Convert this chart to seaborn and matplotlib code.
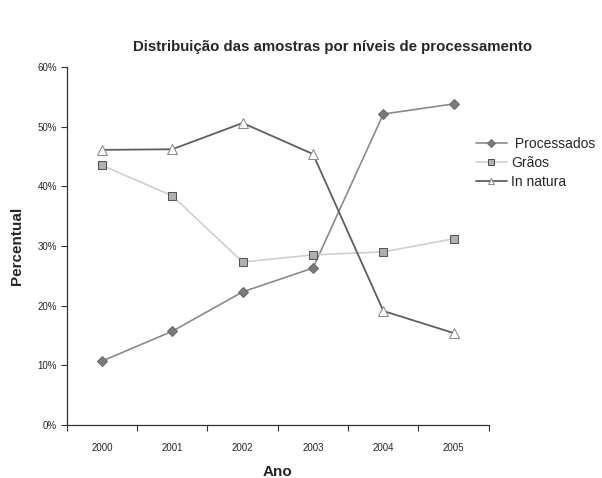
import pandas as pd
import matplotlib
matplotlib.use("Agg")
import matplotlib.pyplot as plt
import seaborn as sns
from matplotlib.ticker import PercentFormatter

# --- data ---
anos = ["2000", "2001", "2002", "2003", "2004", "2005"]
processados = [10.7, 15.7, 22.3, 26.3, 52.1, 53.8]
graos = [43.5, 38.4, 27.3, 28.5, 29.0, 31.2]
in_natura = [46.1, 46.2, 50.6, 45.4, 19.1, 15.4]

sns.set_theme(style="white")
plt.rcParams["font.family"] = ["Liberation Sans Narrow", "Liberation Sans", "DejaVu Sans"]

df = pd.DataFrame({"pos": range(len(anos)), "ano": anos,
                   "Processados": processados, "Grãos": graos, "In natura": in_natura})

fig = plt.figure(figsize=(6.02, 4.78), dpi=100)
ax = fig.add_axes([0.111, 0.111, 0.701, 0.749])

# --- series ---
sns.lineplot(data=df, x="pos", y="Processados", ax=ax, color="#8a8a8a", lw=1.2,
             marker="D", markersize=5.5, markerfacecolor="#7a7a7a", markeredgecolor="#6a6a6a",
             label=" Processados")
sns.lineplot(data=df, x="pos", y="Grãos", ax=ax, color="#cfcfcf", lw=1.2,
             marker="s", markersize=6, markerfacecolor="#b0b0b0", markeredgecolor="#555555",
             label="Grãos")
sns.lineplot(data=df, x="pos", y="In natura", ax=ax, color="#5e5e5e", lw=1.3,
             marker="^", markersize=7, markerfacecolor="white", markeredgecolor="#8a8a8a",
             label="In natura")

# --- axes ---
ax.set_xlim(-0.5, len(anos) - 0.5)
ax.set_ylim(0, 60)
ax.set_yticks(range(0, 61, 10))
ax.yaxis.set_major_formatter(PercentFormatter(decimals=0))
ax.set_xticks(range(len(anos)))
ax.set_xticklabels(anos)
ax.set_xticks([i - 0.5 for i in range(len(anos) + 1)], minor=True)
ax.tick_params(axis="x", which="major", length=0, labelsize=7, pad=13)
ax.tick_params(axis="x", which="minor", length=4, width=0.8, color="#333333", direction="out")
ax.tick_params(axis="y", length=4, width=0.8, color="#333333", direction="out", labelsize=7, pad=3)
ax.tick_params(axis="both", bottom=True, left=True, which="both")
ax.xaxis.set_tick_params(which="major", bottom=False)

for side in ["top", "right"]:
    ax.spines[side].set_visible(False)
for side in ["left", "bottom"]:
    ax.spines[side].set_color("#333333")
    ax.spines[side].set_linewidth(0.9)

ax.set_xlabel("Ano", fontsize=11, fontweight="bold", labelpad=9)
ax.set_ylabel("Percentual", fontsize=11, fontweight="bold", labelpad=10)
fig.suptitle("Distribuição das amostras por níveis de processamento",
             x=0.553, y=0.917, fontsize=10.8, fontweight="bold")

ax.get_legend().remove()
handles, labels = ax.get_legend_handles_labels()
fig.legend(handles, labels, loc="upper left", bbox_to_anchor=(0.77, 0.74), frameon=False,
           fontsize=10, handlelength=2.2, handletextpad=0.3, labelspacing=0.35,
           markerscale=0.7)

fig.savefig("out.png", dpi=100)
